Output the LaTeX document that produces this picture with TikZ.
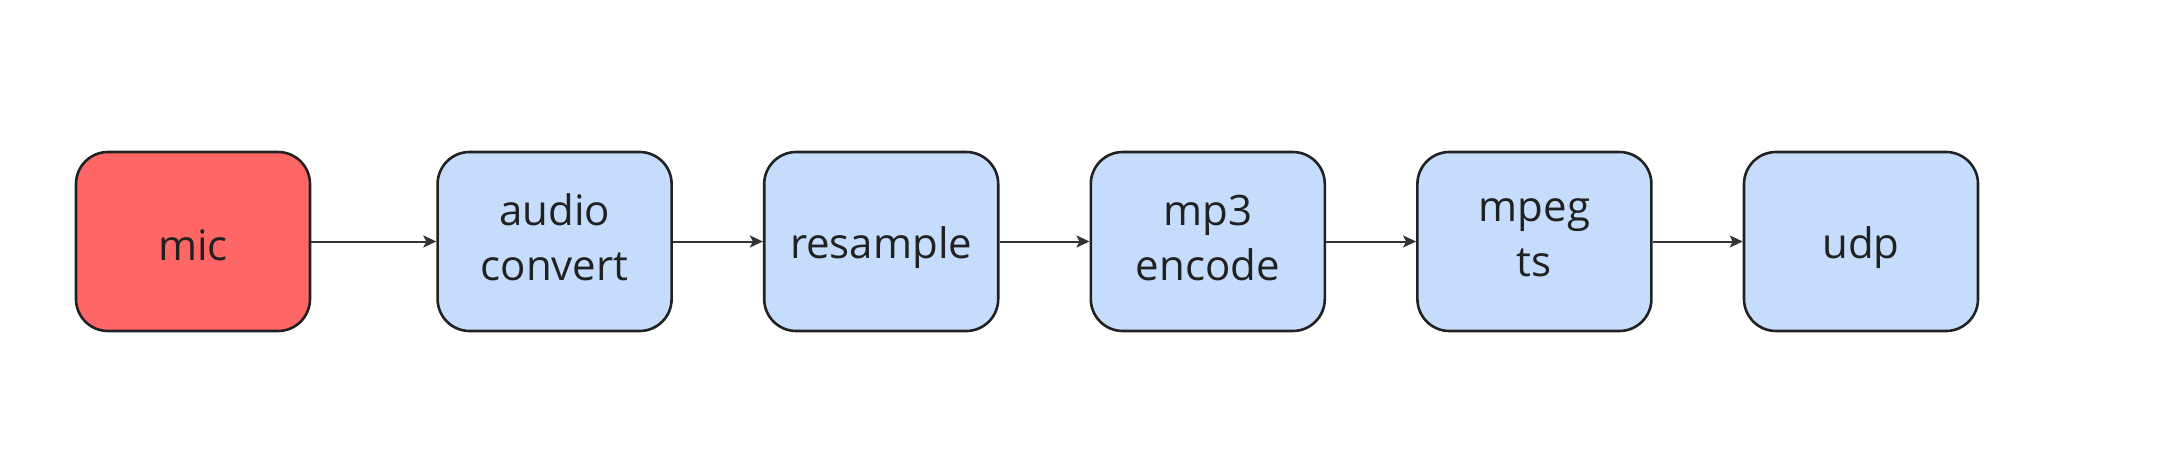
\documentclass[tikz,border=0pt]{standalone}
\usepackage{fontspec}
\setmainfont{Open Sans}
\usepackage{xcolor}
\usetikzlibrary{arrows.meta,positioning}

\definecolor{micred}{HTML}{FF6666}
\definecolor{stageblue}{HTML}{C6DCFD}
\definecolor{edgegray}{HTML}{333333}

\newcommand{\linestrut}{\vrule height 45pt depth 8pt width 0pt}

\begin{document}
\begin{tikzpicture}[
    x=1pt, y=1pt,
    node distance=90pt,
    block/.style={rectangle, draw=black!87, line width=2.6pt, fill=stageblue, minimum width=234pt, minimum height=179pt, rounded corners=32pt, align=center, font=\fontsize{42}{55}\selectfont, text=black!87, inner sep=0pt, execute at begin node=\linestrut, execute at end node=\linestrut},
    arrow/.style={-{Stealth[length=13pt, width=12pt, inset=3pt]}, line width=2pt, draw=edgegray}
]
\useasboundingbox (0,0) rectangle (2159,-463);

% Source
\node[block, fill=micred] (mic) at (193,-241.5) {mic};

% Pipeline stages
\node[block, right=125pt of mic] (convert) {audio\\convert};
\node[block, right=of convert] (resample) {resample};
\node[block, right=of resample] (encode) {mp3\\encode};
\node[block, right=of encode] (mpegts) {mpeg\\ts};
\node[block, right=of mpegts] (udp) {udp};

% Arrows
\draw[arrow] (mic) -- (convert);
\draw[arrow] (convert) -- (resample);
\draw[arrow] (resample) -- (encode);
\draw[arrow] (encode) -- (mpegts);
\draw[arrow] (mpegts) -- (udp);

\end{tikzpicture}
\end{document}
